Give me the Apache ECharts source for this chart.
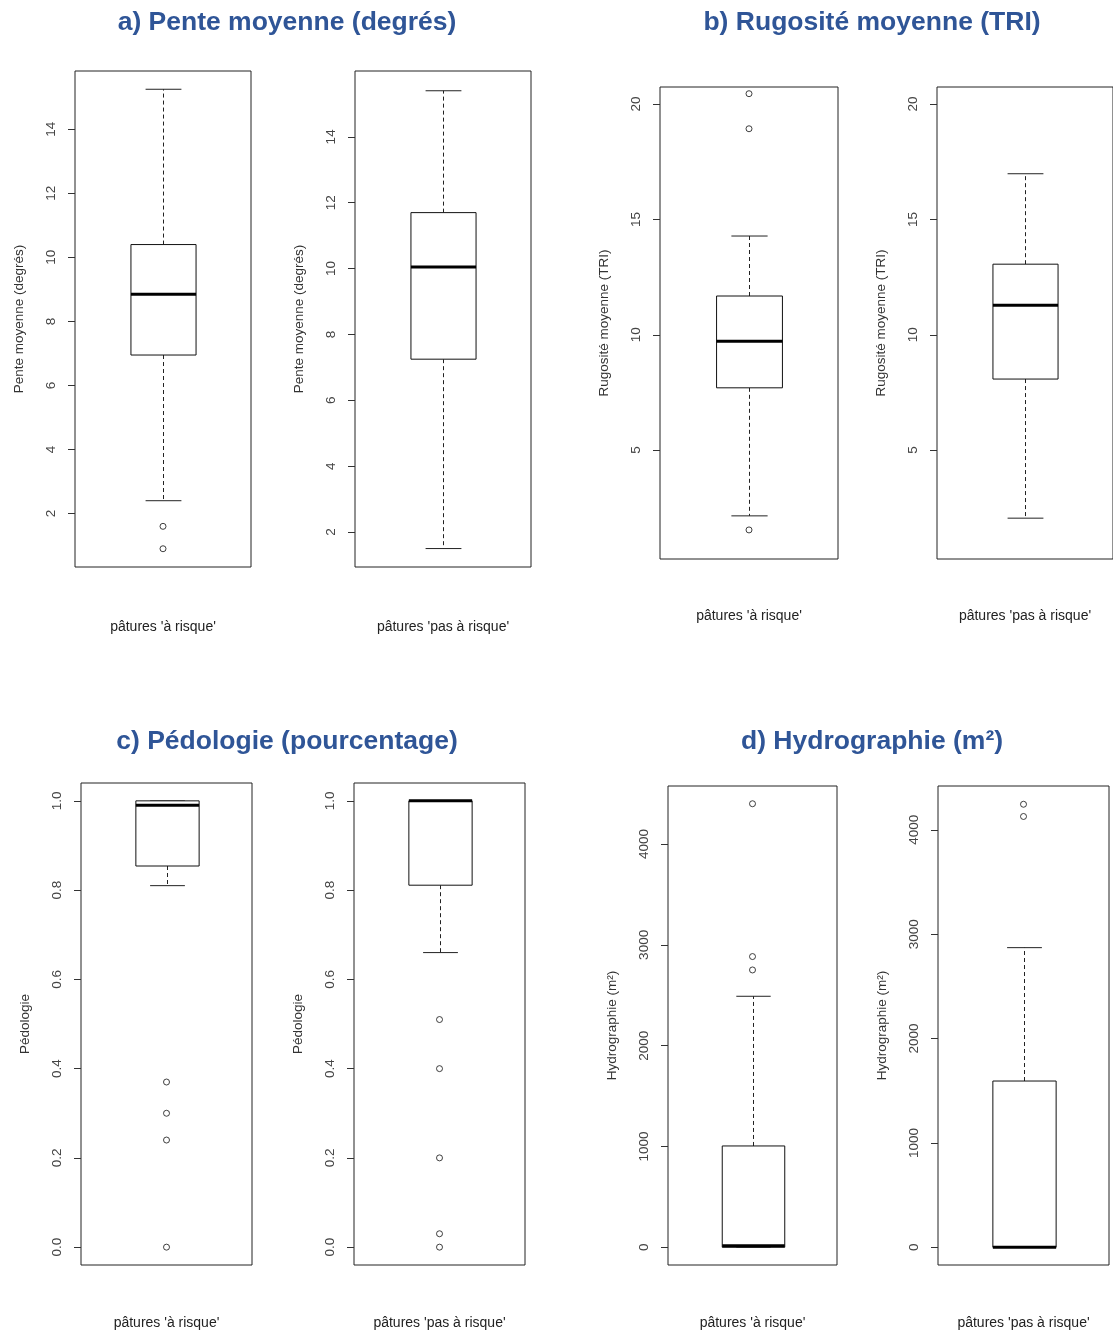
<!DOCTYPE html>
<html>
<head>
<meta charset="utf-8">
<script src="https://cdn.jsdelivr.net/npm/echarts@6/dist/echarts.min.js"></script>
<style>
  html, body { margin: 0; padding: 0; background: #fff; }
  #chart { width: 1113px; height: 1338px; }
</style>
</head>
<body>
<div id="chart"></div>
<script>
// ---------- DATA ----------
const categories = ["pâtures 'à risque'", "pâtures 'pas à risque'"];
const panelTitles = ["a) Pente moyenne (degrés)", "b) Rugosité moyenne (TRI)", "c) Pédologie (pourcentage)", "d) Hydrographie (m²)"];
const axisNames = ["Pente moyenne (degrés)", "Rugosité moyenne (TRI)", "Pédologie", "Hydrographie (m²)"];

// each box: [lower whisker, Q1, median, Q3, upper whisker]
const penteBoxes = [[2.4, 6.95, 8.85, 10.4, 15.25], [1.5, 7.25, 10.05, 11.7, 15.4]];
const penteOutliers = [[1.6, 0.9], []];
const rugositeBoxes = [[2.15, 7.7, 9.72, 11.68, 14.28], [2.05, 8.08, 11.28, 13.06, 16.98]];
const rugositeOutliers = [[20.45, 18.93, 1.54], []];
const pedologieBoxes = [[0.81, 0.854, 0.99, 1.0, 1.0], [0.66, 0.811, 1.0, 1.0, 1.0]];
const pedologieOutliers = [[0.37, 0.30, 0.24, 0.0], [0.51, 0.40, 0.20, 0.03, 0.0]];
const hydroBoxes = [[0, 0, 15, 1005, 2490], [0, 0, 0, 1593, 2871]];
const hydroOutliers = [[4400, 2884, 2751], [4245, 4128]];

// tick labels
const penteTicks = [2, 4, 6, 8, 10, 12, 14];
const rugositeTicks = [5, 10, 15, 20];
const pedologieTicks = [0, 0.2, 0.4, 0.6, 0.8, 1.0];
const hydroTicks = [0, 1000, 2000, 3000, 4000];

// ---------- LAYOUT ----------
const FONT = "'Liberation Sans', Arial, Helvetica, sans-serif";
const panels = [
  {grid: [75, 71, 176, 496],  box: penteBoxes[0],     out: penteOutliers[0],     cat: 0, ticks: penteTicks,     name: 0, range: [0.33, 15.82], lblMargin: 53},
  {grid: [355, 71, 176, 496], box: penteBoxes[1],     out: penteOutliers[1],     cat: 1, ticks: penteTicks,     name: 0, range: [0.94, 16.0],  lblMargin: 53},
  {grid: [660, 87, 178, 472], box: rugositeBoxes[0],  out: rugositeOutliers[0],  cat: 0, ticks: rugositeTicks,  name: 1, range: [0.28, 20.74], lblMargin: 50},
  {grid: [937, 87, 180, 472], box: rugositeBoxes[1],  out: rugositeOutliers[1],  cat: 1, ticks: rugositeTicks,  name: 1, range: [0.28, 20.74], lblMargin: 50},
  {grid: [81, 783, 171, 482], box: pedologieBoxes[0], out: pedologieOutliers[0], cat: 0, ticks: pedologieTicks, name: 2, range: [-0.04, 1.04], lblMargin: 51, fmt: v => v.toFixed(1)},
  {grid: [354, 783, 171, 482],box: pedologieBoxes[1], out: pedologieOutliers[1], cat: 1, ticks: pedologieTicks, name: 2, range: [-0.04, 1.04], lblMargin: 51, fmt: v => v.toFixed(1)},
  {grid: [668, 786, 169, 479],box: hydroBoxes[0],     out: hydroOutliers[0],     cat: 0, ticks: hydroTicks,     name: 3, range: [-176, 4576],  lblMargin: 51},
  {grid: [938, 786, 171, 479],box: hydroBoxes[1],     out: hydroOutliers[1],     cat: 1, ticks: hydroTicks,     name: 3, range: [-170, 4420],  lblMargin: 51}
];

function renderBox(params, api) {
  const xi = api.value(0);
  const low = api.coord([xi, api.value(1)]);
  const q1 = api.coord([xi, api.value(2)]);
  const med = api.coord([xi, api.value(3)]);
  const q3 = api.coord([xi, api.value(4)]);
  const high = api.coord([xi, api.value(5)]);
  const band = api.size([1, 0])[0];
  const hw = band * 0.185;
  const sw = hw * 0.55;
  const x = Math.round(low[0]) + 0.5;
  const dash = {stroke: '#222', lineWidth: 1, lineDash: [4, 3], fill: null};
  const solid = {stroke: '#222', lineWidth: 1, fill: null};
  return {
    type: 'group',
    children: [
      {type: 'line', shape: {x1: x, y1: q3[1], x2: x, y2: high[1]}, style: dash},
      {type: 'line', shape: {x1: x, y1: q1[1], x2: x, y2: low[1]}, style: dash},
      {type: 'line', shape: {x1: x - sw, y1: high[1], x2: x + sw, y2: high[1]}, style: solid},
      {type: 'line', shape: {x1: x - sw, y1: low[1], x2: x + sw, y2: low[1]}, style: solid},
      {type: 'rect', shape: {x: x - hw, y: q3[1], width: 2 * hw, height: q1[1] - q3[1]}, style: {fill: '#fff', stroke: '#111', lineWidth: 1}},
      {type: 'line', shape: {x1: x - hw, y1: med[1], x2: x + hw, y2: med[1]}, style: {stroke: '#000', lineWidth: 3}}
    ]
  };
}

const grids = [], xAxes = [], yAxes = [], series = [];
panels.forEach((p, i) => {
  grids.push({left: p.grid[0], top: p.grid[1], width: p.grid[2], height: p.grid[3],
    show: true, borderColor: '#222', borderWidth: 1, backgroundColor: 'transparent', containLabel: false});
  xAxes.push({gridIndex: i, type: 'category', data: [categories[p.cat]],
    axisLine: {show: false}, axisTick: {show: false}, splitLine: {show: false},
    axisLabel: {margin: p.lblMargin, fontSize: 14, color: '#222', fontFamily: FONT}});
  yAxes.push({gridIndex: i, type: 'value', min: p.range[0], max: p.range[1],
    name: axisNames[p.name], nameLocation: 'middle', nameGap: 49,
    nameTextStyle: {fontSize: 13.5, color: '#333', fontFamily: FONT},
    axisLine: {show: false}, splitLine: {show: false},
    axisTick: {show: true, length: 7, lineStyle: {color: '#333'}, customValues: p.ticks},
    axisLabel: {rotate: 90, margin: 17, fontSize: 13.5, color: '#444', fontFamily: FONT,
      customValues: p.ticks, formatter: p.fmt ? p.fmt : (v => String(v))}});
  series.push({type: 'custom', xAxisIndex: i, yAxisIndex: i, renderItem: renderBox,
    encode: {x: 0, y: [1, 2, 3, 4, 5]}, clip: false,
    data: [[0].concat(p.box)], silent: true, animation: false});
  series.push({type: 'scatter', xAxisIndex: i, yAxisIndex: i, symbol: 'circle', symbolSize: 6,
    itemStyle: {color: 'rgba(255,255,255,0)', borderColor: '#111', borderWidth: 1}, silent: true, animation: false,
    data: p.out.map(v => [0, v])});
});

const titlePos = [[287, 9], [872, 9], [287, 728], [872, 728]];
const titles = panelTitles.map((t, i) => ({
  text: t, left: titlePos[i][0], top: titlePos[i][1], textAlign: 'center', padding: 0,
  textStyle: {fontSize: 26.5, fontWeight: 'bold', color: '#2f5597', fontFamily: FONT}
}));

const chart = echarts.init(document.getElementById('chart'), null, {renderer: 'canvas'});
chart.setOption({
  animation: false,
  backgroundColor: '#fff',
  title: titles,
  grid: grids,
  xAxis: xAxes,
  yAxis: yAxes,
  series: series
});
</script>
</body>
</html>
